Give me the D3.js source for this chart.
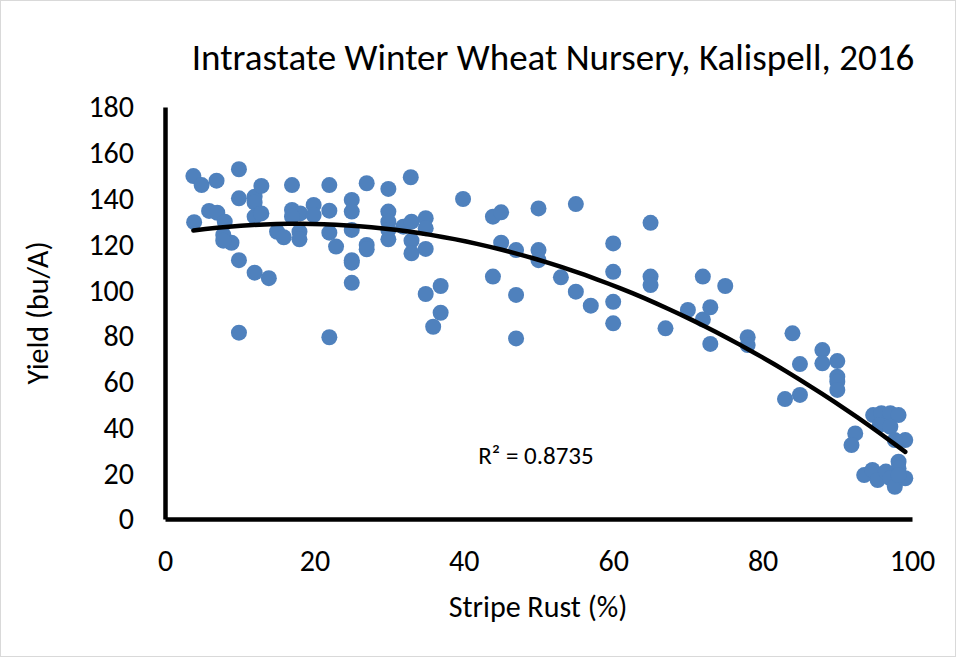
<!DOCTYPE html>
<html>
<head>
<meta charset="utf-8">
<script src="https://cdn.jsdelivr.net/npm/d3@7"></script>
<style>
body { margin:0; background:#fff; }
text { font-family: Carlito, Calibri, Lato, "Open Sans", sans-serif; fill:#000; }
</style>
</head>
<body>
<div id="chart"></div>
<script>
// stripe rust (%) and yield (bu/A)
const rust = [3.8,4.9,6.9,9.9,9.9,12.0,12.0,12.9,17.0,22.0,25.0,25.0,5.9,7.0,8.0,3.9,12.0,12.9,17.0,18.1,17.0,19.9,19.9,22.0,
    7.8,8.9,7.8,15.0,15.9,18.0,18.0,22.0,22.9,25.0,25.0,25.0,25.0,9.9,12.0,13.9,9.9,22.0,
    27.0,27.0,27.0,29.9,29.9,29.9,29.9,29.9,31.9,32.9,33.0,33.0,33.0,34.9,34.9,34.9,34.9,36.9,36.9,35.9,
    39.9,43.9,45.0,43.9,45.0,50.0,55.0,47.0,47.0,47.0,50.0,50.0,53.0,55.0,57.0,60.0,60.0,60.0,60.0,
    65.0,65.0,65.0,67.0,70.0,72.0,72.0,73.0,73.0,75.0,78.0,78.0,84.0,85.0,88.0,88.0,90.0,90.0,90.0,90.0,83.0,85.0,
    92.4,91.9,94.8,95.9,97.1,98.2,95.7,97.1,99.1,97.7,98.2,98.2,93.6,94.7,95.4,96.5,97.1,97.7,99.1,98.2];
const yieldBu = [149.8,145.9,147.8,152.8,140.1,140.8,138.2,145.5,145.9,145.9,139.4,134.3,134.6,133.8,129.9,129.7,132.1,133.5,135.0,133.5,132.1,137.2,132.8,134.7,
    124.1,120.7,121.6,125.5,123.1,125.5,122.2,125.1,119.0,126.3,113.1,112.0,103.2,113.1,107.6,105.2,81.4,79.4,
    146.7,119.7,117.8,144.2,134.3,129.9,126.3,122.2,127.7,149.3,129.9,121.6,116.1,131.4,127.0,118.0,98.3,101.8,90.1,84.0,
    139.8,132.1,134.0,105.9,120.7,135.7,137.6,117.5,97.9,78.9,117.5,113.1,105.6,99.3,93.2,120.4,108.0,94.9,85.5,
    129.4,105.9,102.2,83.3,91.3,105.9,87.2,92.5,76.5,101.8,79.4,76.0,81.1,67.7,73.8,68.0,69.0,62.2,60.0,56.4,52.4,54.2,
    37.4,32.3,45.4,46.2,46.2,45.4,41.1,40.3,34.5,34.5,25.0,22.1,19.2,21.4,17.0,20.7,17.8,14.1,17.8,19.2];

const xTicks = [0,20,40,60,80,100];
const yTicks = [0,20,40,60,80,100,120,140,160,180];
const r2Label = "R² = 0.8735";

function Chart()
{
    let svg = d3.select("#chart").append("svg")
    .attr("width", 956)
    .attr("height", 658)

    // cadre gris
    svg.append("rect")
    .attr("x", 0.5).attr("y", 0.5)
    .attr("width", 955).attr("height", 656)
    .attr("fill", "white")
    .attr("stroke", "#d9d9d9")

    let xScale = d3.scaleLinear().domain([0, 100]).range([165, 912]);
    let yScale = d3.scaleLinear().domain([0, 180]).range([519, 107]);

    svg.append("text")
    .attr("x", 553).attr("y", 70)
    .attr("text-anchor", "middle")
    .style("font-size", "37px")
    .text("Intrastate Winter Wheat Nursery, Kalispell, 2016")

    // axes sans graduations
    let xAxis = d3.axisBottom(xScale).tickValues(xTicks).tickSize(0).tickPadding(31);
    let yAxis = d3.axisLeft(yScale).tickValues(yTicks).tickSize(0).tickPadding(31);

    let gx = svg.append("g").attr("transform", "translate(0,519)").call(xAxis);
    let gy = svg.append("g").attr("transform", "translate(165,0)").call(yAxis);
    gx.select(".domain").attr("stroke", "#000").attr("stroke-width", 4.5);
    gy.select(".domain").attr("stroke", "#000").attr("stroke-width", 4.5);
    gx.attr("font-family", null).attr("font-size", null);
    gy.attr("font-family", null).attr("font-size", null);
    svg.selectAll(".tick text").style("font-size", "30px");
    gy.selectAll(".tick text").attr("dy", "0.33em");

    svg.append("text")
    .attr("x", 538).attr("y", 617)
    .attr("text-anchor", "middle")
    .style("font-size", "30px")
    .text("Stripe Rust (%)")

    svg.append("text")
    .attr("transform", "translate(48,313) rotate(-90)")
    .attr("text-anchor", "middle")
    .style("font-size", "30px")
    .text("Yield (bu/A)")

    let points = rust.map((d, i) => ({x: d, y: yieldBu[i]}));

    svg.append("g").selectAll("circle")
    .data(points)
    .enter()
    .append("circle")
    .attr("cx", d => xScale(d.x))
    .attr("cy", d => yScale(d.y))
    .attr("r", 8)
    .attr("fill", "#4f81bd")

    // courbe de tendance polynomiale (ordre 2), moindres carres
    let c = polyFit(points);
    let xmin = d3.min(rust), xmax = d3.max(rust);
    let trend = d3.range(0, 61).map(k => {
        let x = xmin + (xmax - xmin) * k / 60;
        return {x: x, y: c[0] + c[1]*x + c[2]*x*x};
    });

    let lineGenerator = d3.line()
    .x(d => xScale(d.x))
    .y(d => yScale(d.y))

    svg.append("path")
    .datum(trend)
    .attr("fill", "none")
    .attr("stroke", "#000")
    .attr("stroke-width", 4.5)
    .attr("stroke-linecap", "round")
    .attr("d", lineGenerator)

    svg.append("text")
    .attr("x", 536).attr("y", 464)
    .attr("text-anchor", "middle")
    .style("font-size", "25px")
    .text(r2Label)
}

function polyFit(pts)
{
    // equations normales 3x3
    let s = [0,0,0,0,0], t = [0,0,0];
    pts.forEach(p => {
        for (let k = 0; k < 5; k++) s[k] += Math.pow(p.x, k);
        for (let k = 0; k < 3; k++) t[k] += p.y * Math.pow(p.x, k);
    });
    let m = [[s[0],s[1],s[2],t[0]],[s[1],s[2],s[3],t[1]],[s[2],s[3],s[4],t[2]]];
    for (let i = 0; i < 3; i++) {
        for (let j = i + 1; j < 3; j++) {
            let f = m[j][i] / m[i][i];
            for (let k = i; k < 4; k++) m[j][k] -= f * m[i][k];
        }
    }
    let c = [0,0,0];
    for (let i = 2; i >= 0; i--) {
        let v = m[i][3];
        for (let k = i + 1; k < 3; k++) v -= m[i][k] * c[k];
        c[i] = v / m[i][i];
    }
    return c;
}

Chart()
</script>
</body>
</html>
